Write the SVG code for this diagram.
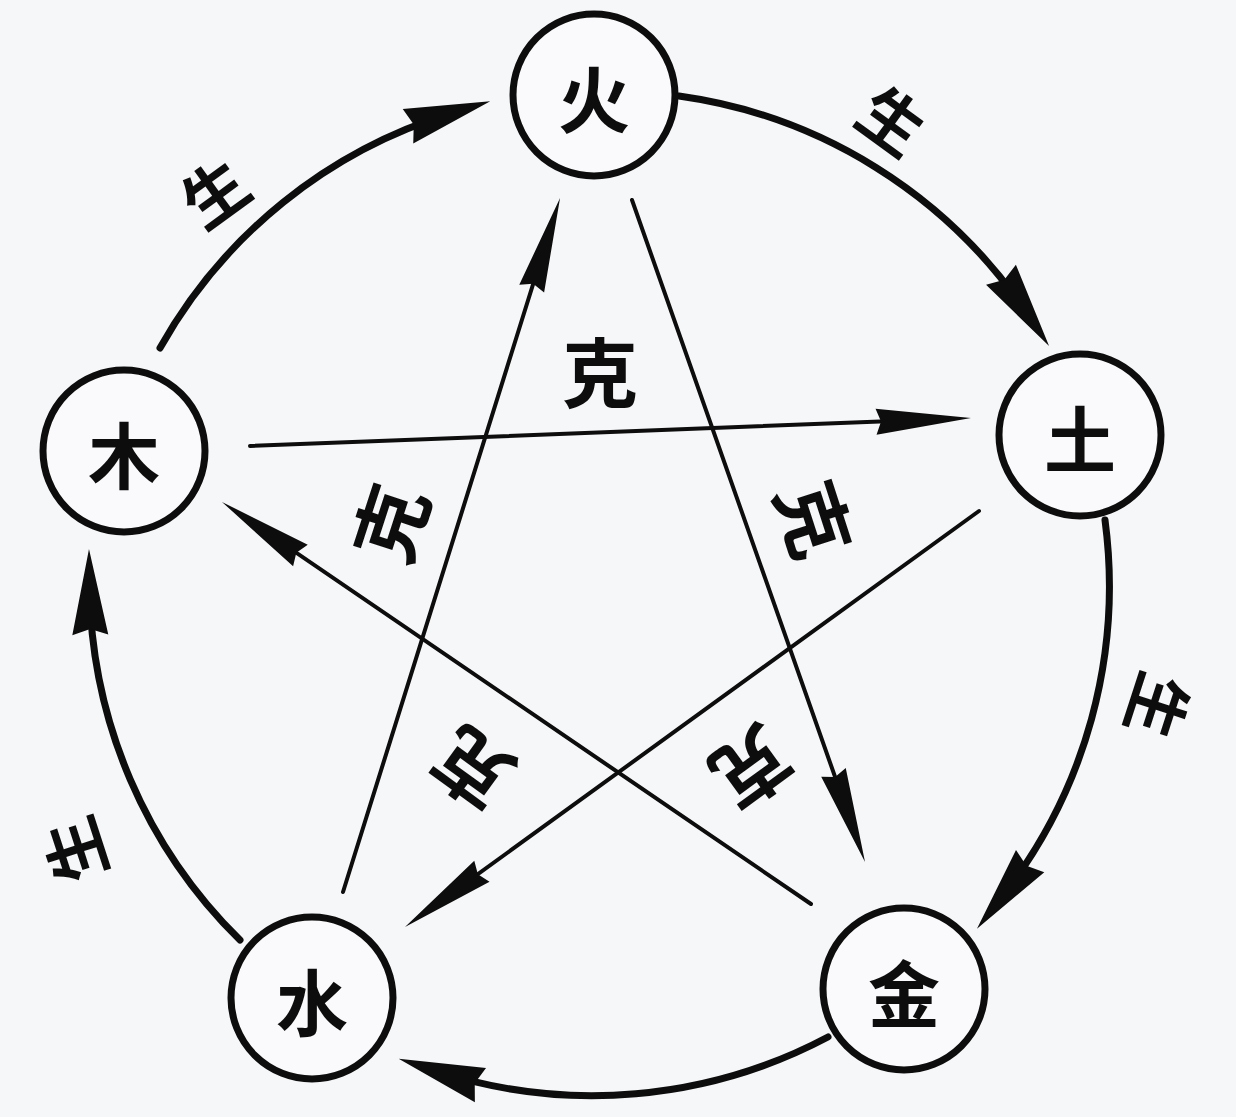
<svg xmlns="http://www.w3.org/2000/svg" width="1236" height="1117" viewBox="0 0 1236 1117">
  <style>
    .node circle { fill: #fafafc; stroke: #0d0d0d; stroke-width: 7; }
    .node text { font-family: "Noto Sans CJK SC", "Noto Sans CJK TC", sans-serif; font-size: 72px; font-weight: 700; fill: #0d0d0d; text-anchor: middle; dominant-baseline: central; }
    .sheng { fill: none; stroke: #0d0d0d; stroke-width: 7; stroke-linecap: round; }
    .ke { fill: none; stroke: #0d0d0d; stroke-width: 4; stroke-linecap: round; }
    .lbl { font-family: "Noto Sans CJK SC", "Noto Sans CJK TC", sans-serif; font-weight: 700; fill: #0d0d0d; text-anchor: middle; dominant-baseline: central; }
    .lbl-ke { font-size: 76px; }
    .lbl-sheng { font-size: 64px; }
  </style>
  <defs>
    <marker id="arrowSheng" markerUnits="userSpaceOnUse" orient="auto" refX="0" refY="0" markerWidth="10" markerHeight="10" overflow="visible">
      <path d="M40,0 L-46,-18 L-40,0 L-46,18 Z" fill="#0d0d0d"/>
    </marker>
    <marker id="arrowKe" markerUnits="userSpaceOnUse" orient="auto" refX="0" refY="0" markerWidth="10" markerHeight="10" overflow="visible">
      <path d="M32,0 L-63,-13 L-58,0 L-63,13 Z" fill="#0d0d0d"/>
    </marker>
  </defs>
  <rect x="0" y="0" width="1236" height="1117" fill="#f6f7f9"/>

  <g id="connectors">
    <!-- 生 (generating) cycle arcs -->
    <path class="sheng" d="M160,348 A503,503 0 0 1 452,112.9" marker-end="url(#arrowSheng)"/>
    <path class="sheng" d="M679,96 A503,503 0 0 1 1026.7,312.9" marker-end="url(#arrowSheng)"/>
    <path class="sheng" d="M1105,520 A503,503 0 0 1 1001.7,897.2" marker-end="url(#arrowSheng)"/>
    <path class="sheng" d="M828,1037 A503,503 0 0 1 436.7,1071" marker-end="url(#arrowSheng)"/>
    <path class="sheng" d="M240,940 A503,503 0 0 1 89.6,588.9" marker-end="url(#arrowSheng)"/>
    <!-- 克 (controlling) star lines -->
    <path class="ke" d="M250,446 L939,419.2" marker-end="url(#arrowKe)"/>
    <path class="ke" d="M343,892 L550.5,228.5" marker-end="url(#arrowKe)"/>
    <path class="ke" d="M632,200 L854.4,831.8" marker-end="url(#arrowKe)"/>
    <path class="ke" d="M979,511 L430.9,908.2" marker-end="url(#arrowKe)"/>
    <path class="ke" d="M811,904 L248.4,520" marker-end="url(#arrowKe)"/>
  </g>

  <g id="labels">
    <text class="lbl lbl-sheng" transform="translate(213,190) rotate(-36)">生</text>
    <text class="lbl lbl-sheng" transform="translate(894,118) rotate(36)">生</text>
    <text class="lbl lbl-sheng" transform="translate(1161,707) rotate(108)">生</text>
    <text class="lbl lbl-sheng" transform="translate(72,851) rotate(-108)">生</text>
    <text class="lbl lbl-ke" transform="translate(600,369)">克</text>
    <text class="lbl lbl-ke" transform="translate(387,522) rotate(-72)">克</text>
    <text class="lbl lbl-ke" transform="translate(818,518) rotate(72)">克</text>
    <text class="lbl lbl-ke" transform="translate(470,772) rotate(-144)">克</text>
    <text class="lbl lbl-ke" transform="translate(754,771) rotate(144)">克</text>
  </g>

  <g id="node-fire" class="node">
    <circle cx="594" cy="95" r="81"/>
    <text x="594" y="95">火</text>
  </g>
  <g id="node-earth" class="node">
    <circle cx="1080" cy="435" r="81"/>
    <text x="1080" y="435">土</text>
  </g>
  <g id="node-metal" class="node">
    <circle cx="904" cy="989" r="81"/>
    <text x="904" y="989">金</text>
  </g>
  <g id="node-water" class="node">
    <circle cx="312" cy="998" r="81"/>
    <text x="312" y="998">水</text>
  </g>
  <g id="node-wood" class="node">
    <circle cx="124" cy="451" r="81"/>
    <text x="124" y="451">木</text>
  </g>
</svg>
